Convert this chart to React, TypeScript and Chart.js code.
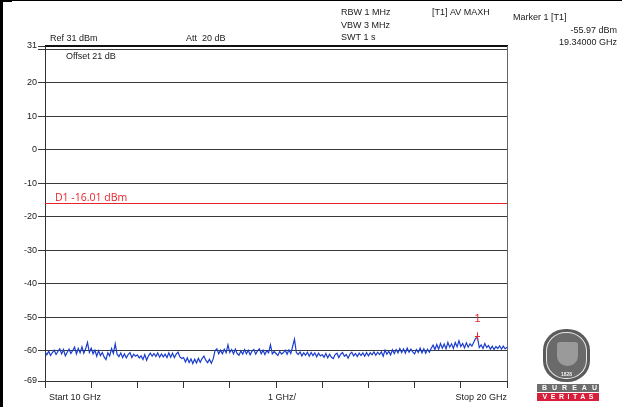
import React, { useEffect, useRef } from "react";
import { Chart, registerables } from "chart.js";

Chart.register(...registerables);

const START_GHZ = 10;
const STOP_GHZ = 20;
const X_TICKS = [10, 11, 12, 13, 14, 15, 16, 17, 18, 19, 20];
const Y_TICKS = [31, 30, 20, 10, 0, -10, -20, -30, -40, -50, -60, -69];
const Y_LABELS = ["31", "", "20", "10", "0", "-10", "-20", "-30", "-40", "-50", "-60", "-69"];
const Y_MIN = -69;
const Y_MAX = 31;
const D1_LEVEL = -16.01;
const D1_LABEL = "D1 -16.01 dBm";
const MARKER_FREQ = 19.34;
const MARKER_LEVEL = -55.97;

const HEADER_LEFT = ["Ref 31 dBm", "Att  20 dB", "Offset 21 dB"];
const HEADER_SETTINGS = ["RBW 1 MHz", "VBW 3 MHz", "SWT 1 s"];
const TRACE_MODE = "[T1] AV MAXH";
const MARKER_INFO = ["Marker 1 [T1]", "-55.97 dBm", "19.34000 GHz"];
const FOOTER = ["Start 10 GHz", "1 GHz/", "Stop 20 GHz"];

// sweep levels (dBm), 251 points from 10 GHz to 20 GHz
const TRACE_LEVELS = [
  // 10 GHz
  -60.3, -61.2, -60.1, -61.4, -60.5, -59.8, -61.1, -60.2, -59.4, -60.9, -59.6, -61.5, -60.4, -59.5, -60.8, -59.9, -58.9, -60.9, -59.3, -60.6, -58.8, -60.7, -59.4, -57.5, -60.5,
  // 11 GHz
  -59.2, -60.9, -59.8, -61.6, -60.0, -61.4, -60.5, -61.8, -62.6, -60.6, -61.5, -59.3, -60.8, -57.9, -61.0, -61.7, -60.6, -62.0, -60.9, -62.1, -61.1, -60.5, -62.0, -61.0, -61.6,
  // 12 GHz
  -61.2, -62.1, -61.5, -62.6, -61.1, -62.8, -61.5, -60.7, -61.6, -60.8, -61.7, -60.6, -61.9, -60.9, -61.8, -61.0, -62.0, -60.6, -61.9, -60.7, -62.0, -61.0, -60.4, -61.8, -62.3,
  // 13 GHz
  -62.0, -63.3, -62.1, -63.5, -62.4, -63.8, -62.5, -63.6, -62.2, -63.4, -62.3, -61.6, -62.8, -63.5, -62.5, -63.7, -62.4, -60.0, -59.4, -60.9, -59.8, -60.9, -59.5, -60.6, -58.2,
  // 14 GHz
  -60.5, -59.6, -60.9, -59.5, -60.8, -61.3, -60.0, -61.0, -59.6, -60.9, -59.8, -61.2, -60.1, -59.6, -61.0, -60.0, -59.4, -60.9, -59.8, -61.1, -60.0, -60.6, -58.2, -60.9, -60.2,
  // 15 GHz
  -60.8, -61.4, -60.2, -61.0, -60.5, -59.8, -61.0, -59.7, -60.8, -58.7, -56.5, -60.5, -61.1, -60.3, -61.5, -60.6, -61.3, -60.4, -61.6, -60.5, -61.4, -60.6, -61.8, -60.7, -61.5,
  // 16 GHz
  -61.1, -61.9, -60.8, -62.1, -61.0, -61.9, -62.3, -61.1, -60.7, -62.0, -61.0, -60.5, -61.6, -61.1, -62.2, -61.0, -60.4, -61.5, -60.8, -61.7, -60.7, -61.4, -60.6, -61.6, -60.5,
  // 17 GHz
  -61.5, -60.6, -61.2, -60.3, -61.3, -60.4, -61.1, -60.3, -61.6, -59.8, -61.0, -60.1, -61.2, -59.7, -60.8, -59.6, -60.6, -59.3, -60.5, -59.4, -60.7, -59.2, -60.4, -59.5, -60.3,
  // 18 GHz
  -60.9, -59.6, -60.5, -59.2, -60.6, -59.4, -60.7, -59.5, -60.4, -59.2, -58.3, -59.6, -58.1, -59.5, -57.8, -59.2, -58.0, -59.4, -57.5, -58.9, -57.9, -59.3, -57.5, -58.8, -57.0,
  // 19 GHz
  -58.7, -57.8, -59.1, -57.6, -58.9, -57.9, -58.6, -57.4, -56.3, -56.0, -59.0, -58.2, -59.3, -57.8, -59.0, -58.4, -59.5, -58.6, -59.6, -58.7, -59.3, -58.5, -59.5, -58.6, -59.4,
  // 20 GHz
  -58.9,
];

const TEXT_FONT = '9px "Liberation Sans", Arial, sans-serif';

const overlayPlugin = {
  id: "overlay",
  afterDraw(chart: any) {
    const { ctx, chartArea, scales } = chart;
    const xs = scales.x;
    const ys = scales.y;
    ctx.save();

    // frame: top (thicker) and right
    ctx.strokeStyle = "#111";
    ctx.lineWidth = 2;
    ctx.beginPath();
    ctx.moveTo(chartArea.left, chartArea.top);
    ctx.lineTo(chartArea.right + 1, chartArea.top);
    ctx.stroke();
    ctx.strokeStyle = "#666";
    ctx.lineWidth = 1;
    ctx.beginPath();
    ctx.moveTo(Math.round(chartArea.right) + 0.5, chartArea.top);
    ctx.lineTo(Math.round(chartArea.right) + 0.5, chartArea.bottom);
    ctx.stroke();

    // D1 line
    const dy = Math.round(ys.getPixelForValue(D1_LEVEL)) + 0.5;
    ctx.strokeStyle = "#e8232b";
    ctx.beginPath();
    ctx.moveTo(chartArea.left, dy);
    ctx.lineTo(chartArea.right, dy);
    ctx.stroke();
    ctx.fillStyle = "#e8232b";
    ctx.font = '10.5px "Open Sans", "Noto Sans", sans-serif';
    ctx.textBaseline = "middle";
    ctx.textAlign = "left";
    ctx.fillText(D1_LABEL, chartArea.left + 10, dy - 5.5);

    // marker
    const mx = Math.round(xs.getPixelForValue(MARKER_FREQ)) + 0.5;
    const my = ys.getPixelForValue(MARKER_LEVEL);
    ctx.strokeStyle = "#e8232b";
    ctx.beginPath();
    ctx.moveTo(mx, my - 5);
    ctx.lineTo(mx, my + 3);
    ctx.moveTo(mx - 2.5, Math.round(my - 1) + 0.5);
    ctx.lineTo(mx + 2.5, Math.round(my - 1) + 0.5);
    ctx.stroke();
    ctx.font = '11px "Liberation Sans", Arial, sans-serif';
    ctx.textAlign = "center";
    ctx.fillText("1", mx, my - 18);

    // header texts
    ctx.fillStyle = "#1a1a1a";
    ctx.font = TEXT_FONT;
    ctx.textAlign = "left";
    ctx.fillText(HEADER_LEFT[0], 50, 39);
    ctx.fillText(HEADER_LEFT[1], 186, 39);
    ctx.fillText(HEADER_LEFT[2], 66, 57);
    ctx.fillText(HEADER_SETTINGS[0], 341, 13);
    ctx.fillText(HEADER_SETTINGS[1], 341, 26);
    ctx.fillText(HEADER_SETTINGS[2], 341, 38);
    ctx.fillText(TRACE_MODE, 432, 13);
    ctx.fillText(MARKER_INFO[0], 513, 18);
    ctx.textAlign = "right";
    ctx.fillText(MARKER_INFO[1], 617, 31);
    ctx.fillText(MARKER_INFO[2], 617, 43);

    // footer
    ctx.textAlign = "left";
    ctx.fillText(FOOTER[0], 49, 398);
    ctx.textAlign = "center";
    ctx.fillText(FOOTER[1], (chartArea.left + chartArea.right) / 2 + 6, 398);
    ctx.textAlign = "right";
    ctx.fillText(FOOTER[2], chartArea.right, 398);

    ctx.restore();
  },
};

function Logo() {
  const base: React.CSSProperties = { position: "absolute" };
  return (
    <>
      <div
        style={{
          ...base,
          left: 543,
          top: 329,
          width: 47,
          height: 53,
          borderRadius: "48% / 40%",
          background: "#5b5b5b",
        }}
      >
        <div
          style={{
            ...base,
            left: 3,
            top: 3,
            right: 3,
            bottom: 3,
            borderRadius: "48% / 40%",
            border: "1.5px solid #e6e6e6",
            background: "#6a6a6a",
          }}
        >
          <div
            style={{
              ...base,
              left: 10,
              top: 9,
              width: 21,
              height: 24,
              borderRadius: "3px 3px 10px 10px",
              background: "#9a9a9a",
            }}
          />
          <div
            style={{
              ...base,
              left: 0,
              right: 0,
              bottom: 1,
              textAlign: "center",
              color: "#eee",
              font: 'bold 5px "Liberation Sans", Arial, sans-serif',
              lineHeight: "5px",
            }}
          >
            1828
          </div>
        </div>
      </div>
      <div
        style={{
          ...base,
          left: 537,
          top: 384,
          width: 62,
          height: 8,
          background: "#6e6e6e",
          color: "#fff",
          textAlign: "center",
          font: 'bold 7px "Liberation Sans", Arial, sans-serif',
          lineHeight: "8px",
          letterSpacing: "5px",
          textIndent: "5px",
        }}
      >
        BUREAU
      </div>
      <div
        style={{
          ...base,
          left: 537,
          top: 393,
          width: 62,
          height: 8,
          background: "#d71f3b",
          color: "#fff",
          textAlign: "center",
          font: 'bold 7px "Liberation Sans", Arial, sans-serif',
          lineHeight: "8px",
          letterSpacing: "3.5px",
          textIndent: "3.5px",
        }}
      >
        VERITAS
      </div>
    </>
  );
}

export default function App() {
  const canvasRef = useRef<HTMLCanvasElement | null>(null);

  useEffect(() => {
    if (!canvasRef.current) return;
    const n = TRACE_LEVELS.length;
    const step = (STOP_GHZ - START_GHZ) / (n - 1);
    const data = TRACE_LEVELS.map((v, i) => ({ x: START_GHZ + i * step, y: v }));

    const chart = new Chart(canvasRef.current, {
      type: "line",
      data: {
        datasets: [
          {
            data,
            borderColor: "#1a3dcc",
            borderWidth: 1.2,
            pointRadius: 0,
            tension: 0,
          },
        ],
      },
      options: {
        responsive: false,
        animation: false,
        devicePixelRatio: 1,
        layout: { padding: { top: 46, right: 115, left: 0, bottom: 0 } },
        plugins: { legend: { display: false }, tooltip: { enabled: false } },
        scales: {
          x: {
            type: "linear",
            min: START_GHZ,
            max: STOP_GHZ,
            afterBuildTicks: (scale: any) => {
              scale.ticks = X_TICKS.map((v) => ({ value: v }));
            },
            afterFit: (scale: any) => {
              scale.height = 26;
            },
            ticks: { autoSkip: false, callback: () => "" },
            grid: {
              drawOnChartArea: false,
              drawTicks: true,
              tickLength: 7,
              color: "#333",
            },
            border: { display: true, color: "#333" },
          },
          y: {
            type: "linear",
            min: Y_MIN,
            max: Y_MAX,
            afterBuildTicks: (scale: any) => {
              scale.ticks = Y_TICKS.map((v) => ({ value: v }));
            },
            afterFit: (scale: any) => {
              scale.width = 45;
            },
            ticks: {
              autoSkip: false,
              padding: 1,
              color: "#1a1a1a",
              font: { family: '"Liberation Sans", Arial, sans-serif', size: 9 },
              callback: (value: any) => {
                const i = Y_TICKS.indexOf(Number(value));
                return i >= 0 ? Y_LABELS[i] : "";
              },
            },
            grid: {
              drawOnChartArea: true,
              drawTicks: true,
              tickLength: 7,
              color: "#3a3a3a",
            },
            border: { display: true, color: "#333" },
          },
        },
      },
      plugins: [overlayPlugin],
    });
    return () => chart.destroy();
  }, []);

  return (
    <div
      style={{
        position: "absolute",
        left: 0,
        top: 0,
        width: 622,
        height: 407,
        background: "#fff",
        overflow: "hidden",
      }}
    >
      <canvas ref={canvasRef} width={622} height={407} style={{ display: "block" }} />
      <div style={{ position: "absolute", left: 0, top: 0, width: 3, height: 407, background: "#000" }} />
      <div style={{ position: "absolute", left: 0, top: 0, width: 622, height: 1, background: "#000" }} />
      <div style={{ position: "absolute", left: 0, top: 0, width: 12, height: 2, background: "#000" }} />
      <Logo />
    </div>
  );
}
